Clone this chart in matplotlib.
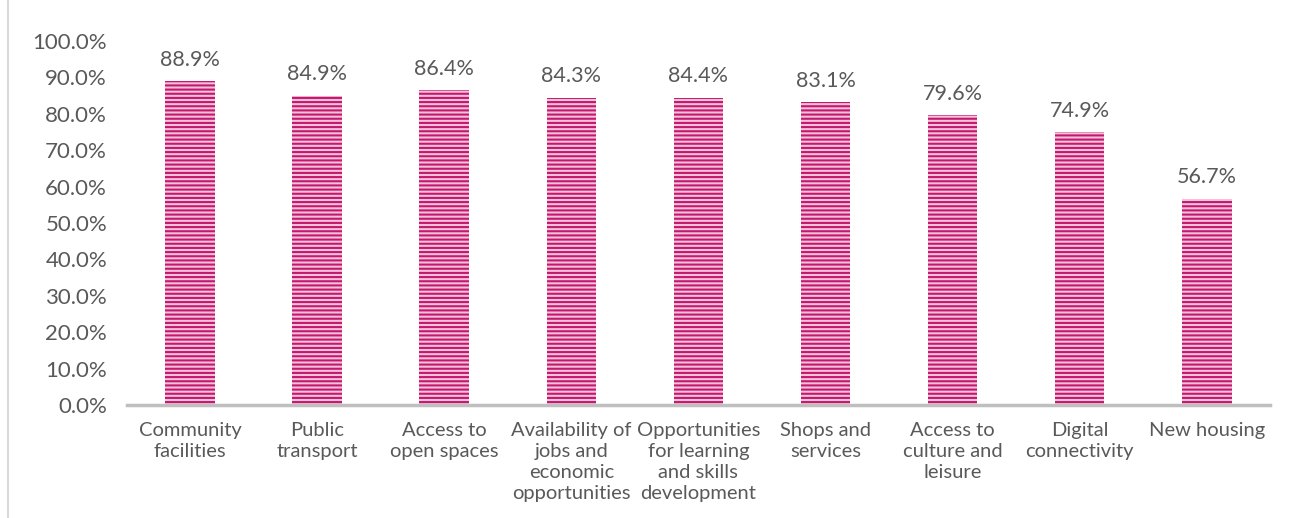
import matplotlib.pyplot as plt
from matplotlib.patches import Rectangle

categories = ['Community\nfacilities', 'Public\ntransport', 'Access to\nopen spaces',
              'Availability of\njobs and\neconomic\nopportunities',
              'Opportunities\nfor learning\nand skills\ndevelopment',
              'Shops and\nservices', 'Access to\nculture and\nleisure',
              'Digital\nconnectivity', 'New housing']
values = [88.9, 84.9, 86.4, 84.3, 84.4, 83.1, 79.6, 74.9, 56.7]

plt.rcParams['font.family'] = ['Lato', 'DejaVu Sans']
plt.rcParams['hatch.linewidth'] = 1.5
txt = '#595959'

fig = plt.figure(figsize=(12.91, 5.18), dpi=100)
ax = fig.add_axes([0.098, 0.218, 0.886, 0.703])

x = range(len(values))
bars = ax.bar(x, values, width=0.39, color='#F6C2DA', edgecolor='#C2186F',
              hatch='----', linewidth=0)
for i, v in zip(x, values):
    ax.text(i, v + 3.2, f'{v:.1f}%', ha='center', va='bottom', fontsize=15.5, color=txt)

ax.set_xlim(-0.5, len(values) - 0.5)
ax.set_ylim(0, 100)
ax.set_yticks(range(0, 101, 10))
ax.set_yticklabels([f'{t:.1f}%' for t in range(0, 101, 10)])
ax.set_xticks(list(x))
ax.set_xticklabels(categories, fontsize=14.5, color=txt, linespacing=1.3)
ax.tick_params(axis='y', labelsize=16, labelcolor=txt, length=0, pad=14)
ax.tick_params(axis='x', length=0, pad=12)
for s in ['top', 'right', 'left']:
    ax.spines[s].set_visible(False)
ax.spines['bottom'].set_color('#BFBFBF')
ax.spines['bottom'].set_linewidth(2.5)

fig.patches.append(Rectangle((0.006, -0.01), 0.995, 1.02, transform=fig.transFigure,
                             fill=False, edgecolor='#D9D9D9', linewidth=1.5))

fig.savefig('out.png', dpi=100)
